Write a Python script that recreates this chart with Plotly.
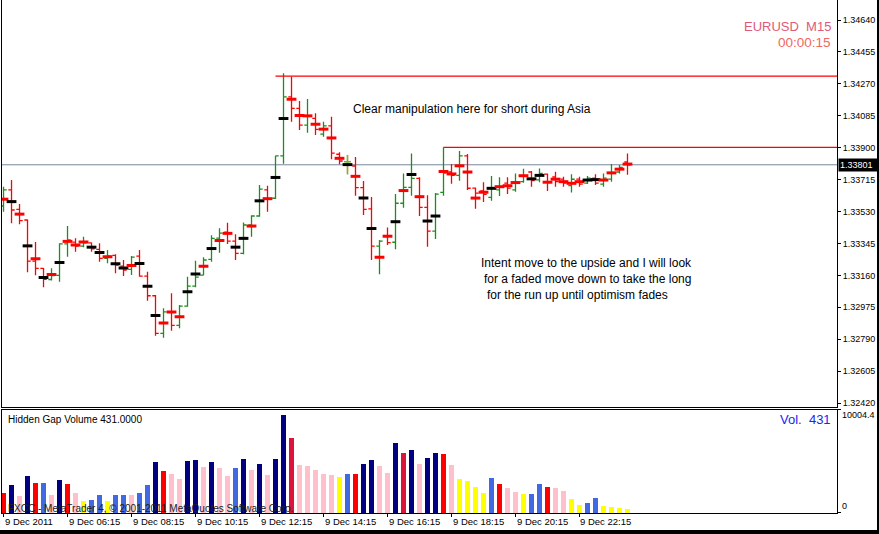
import plotly.graph_objects as go

# ---------------- data ----------------
bar_index = list(range(79))

opens = [1.33562, 1.33655, 1.33543, 1.33481, 1.33243, 1.33201, 1.33136, 1.33160, 1.33343, 1.33353,
         1.33330, 1.33348, 1.33311, 1.33259, 1.33276, 1.33214, 1.33195, 1.33272, 1.33156, 1.33042,
         1.32824, 1.32946, 1.32870, 1.32982, 1.33098, 1.33162, 1.33253, 1.33376, 1.33411, 1.33359,
         1.33288, 1.33452, 1.33504, 1.33655, 1.33607, 1.33852, 1.34195, 1.34128, 1.34031, 1.34070,
         1.33979, 1.34026, 1.33862, 1.33819, 1.33794, 1.33668, 1.33545, 1.33330, 1.33384, 1.33352,
         1.33578, 1.33670, 1.33722, 1.33554, 1.33417, 1.33641, 1.33759, 1.33740, 1.33852, 1.33666,
         1.33649, 1.33612, 1.33655, 1.33695, 1.33655, 1.33703, 1.33759, 1.33713, 1.33747, 1.33730,
         1.33718, 1.33680, 1.33718, 1.33695, 1.33724, 1.33689, 1.33718, 1.33759, 1.33817]
highs = [1.33674, 1.33713, 1.33574, 1.33484, 1.33353, 1.33203, 1.33201, 1.33346, 1.33446, 1.33375,
         1.33384, 1.33350, 1.33346, 1.33307, 1.33282, 1.33249, 1.33272, 1.33307, 1.33181, 1.33046,
         1.32969, 1.33056, 1.32988, 1.33152, 1.33245, 1.33265, 1.33392, 1.33433, 1.33465, 1.33398,
         1.33467, 1.33508, 1.33684, 1.33680, 1.33853, 1.34331, 1.34311, 1.34171, 1.34182, 1.34099,
         1.34051, 1.34080, 1.33873, 1.33858, 1.33846, 1.33707, 1.33614, 1.33365, 1.33438, 1.33631,
         1.33751, 1.33867, 1.33728, 1.33624, 1.33637, 1.33902, 1.33805, 1.33881, 1.33863, 1.33670,
         1.33699, 1.33736, 1.33728, 1.33728, 1.33751, 1.33778, 1.33765, 1.33780, 1.33751, 1.33761,
         1.33732, 1.33746, 1.33732, 1.33736, 1.33746, 1.33751, 1.33805, 1.33800, 1.33867]
lows = [1.33529, 1.33462, 1.33456, 1.33178, 1.33160, 1.33091, 1.33130, 1.33123, 1.33268, 1.33297,
        1.33323, 1.33297, 1.33239, 1.33230, 1.33172, 1.33156, 1.33162, 1.33152, 1.33013, 1.32810,
        1.32799, 1.32839, 1.32853, 1.32978, 1.33091, 1.33160, 1.33239, 1.33291, 1.33342, 1.33249,
        1.33282, 1.33384, 1.33500, 1.33529, 1.33602, 1.33807, 1.34051, 1.34002, 1.33987, 1.33973,
        1.33964, 1.33833, 1.33804, 1.33746, 1.33622, 1.33510, 1.33249, 1.33166, 1.33336, 1.33311,
        1.33552, 1.33622, 1.33504, 1.33326, 1.33371, 1.33622, 1.33691, 1.33709, 1.33655, 1.33546,
        1.33585, 1.33593, 1.33620, 1.33631, 1.33645, 1.33697, 1.33674, 1.33699, 1.33649, 1.33674,
        1.33674, 1.33641, 1.33674, 1.33689, 1.33684, 1.33674, 1.33703, 1.33751, 1.33743]
closes = [1.33655, 1.33539, 1.33477, 1.33243, 1.33201, 1.33137, 1.33159, 1.33342, 1.33365, 1.33330,
          1.33348, 1.33313, 1.33259, 1.33272, 1.33220, 1.33191, 1.33266, 1.33156, 1.33042, 1.32824,
          1.32948, 1.32870, 1.32982, 1.33098, 1.33150, 1.33249, 1.33375, 1.33405, 1.33359, 1.33288,
          1.33452, 1.33504, 1.33660, 1.33602, 1.33852, 1.34195, 1.34128, 1.34031, 1.34084, 1.34006,
          1.34026, 1.33869, 1.33823, 1.33819, 1.33668, 1.33543, 1.33330, 1.33359, 1.33350, 1.33578,
          1.33670, 1.33722, 1.33554, 1.33417, 1.33631, 1.33753, 1.33740, 1.33852, 1.33665, 1.33637,
          1.33629, 1.33665, 1.33674, 1.33666, 1.33694, 1.33736, 1.33709, 1.33751, 1.33697, 1.33703,
          1.33695, 1.33717, 1.33689, 1.33724, 1.33695, 1.33724, 1.33755, 1.33786, 1.33801]

volumes = [2020, 2910, 1710, 3840, 3120, 3120, 1820, 3430, 3010, 2090,
           1270, 1370, 1820, 1270, 1880, 1880, 1820, 2090, 2910, 5280,
           4350, 4040, 3530, 5380, 5480, 4760, 5280, 4660, 3840, 4660,
           5580, 4450, 5070, 3940, 5580, 10004, 7740, 4970, 4870, 4450,
           4040, 3940, 3730, 4040, 4040, 5070, 5480, 4870, 4150, 7130,
           6200, 6510, 5070, 5690, 6200, 6100, 4970, 3530, 3320, 2710,
           2090, 3630, 3010, 2600, 2190, 1990, 1990, 3010, 2710, 2600,
           2300, 1470, 860, 1060, 1580, 750, 650, 550, 431]
# gap-volume class per bar: N navy, B blue, R red, C crimson, P pink, Y yellow
volume_class = list("RNPNRBPNRP" "YBBYBBPBBN" "RPPNNPNPPB" "NPNPNNCPPP"
                    "PPYBRNNPPN" "CNPNNRPYYY" "YBRPPYBBRP" "PYYBBYYYY")

time_ticks = [0, 8, 16, 24, 32, 40, 48, 56, 64, 72]
time_labels = ["9 Dec 2011", "9 Dec 06:15", "9 Dec 08:15", "9 Dec 10:15", "9 Dec 12:15",
               "9 Dec 14:15", "9 Dec 16:15", "9 Dec 18:15", "9 Dec 20:15", "9 Dec 22:15"]
price_ticks = [1.34640, 1.34455, 1.34270, 1.34085, 1.33900, 1.33715, 1.33530,
               1.33345, 1.33160, 1.32975, 1.32790, 1.32605, 1.32420]
level_prices = [1.34315, 1.33902]
level_starts = [34, 55]
volume_axis_max = 10004.4

# ---------------- styling ----------------
FONT = "Liberation Sans, Arial, sans-serif"
class_colors = {"N": "#000080", "B": "#4169E1", "R": "#FF0000",
                "C": "#DC143C", "P": "#FFC0CB", "Y": "#FFFF00"}
vol_colors = [class_colors[c] for c in volume_class]
mark_colors = ["#000000" if c in "NB" else "#FF0000" for c in volume_class]
medians = [(h + l) / 2 for h, l in zip(highs, lows)]

XR = [-0.19, 104.19]
fig = go.Figure()

fig.add_trace(go.Ohlc(
    x=bar_index, open=opens, high=highs, low=lows, close=closes,
    increasing=dict(line=dict(color="#1E8C1E", width=1.3)),
    decreasing=dict(line=dict(color="#FF0000", width=1.3)),
    tickwidth=0.4, xaxis="x", yaxis="y", hoverinfo="skip", showlegend=False))

# doji bars (open == close) in lime
dx, dy = [], []
for i, o, h, l, c in zip(bar_index, opens, highs, lows, closes):
    if o == c:
        dx += [i, i, None, i - 0.4, i + 0.4, None]
        dy += [l, h, None, o, o, None]
fig.add_trace(go.Scatter(x=dx, y=dy, mode="lines", line=dict(color="#00FF00", width=1.3),
                         xaxis="x", yaxis="y", hoverinfo="skip", showlegend=False))

# hidden-gap median markers
fig.add_trace(go.Scatter(
    x=bar_index, y=medians, mode="markers",
    marker=dict(symbol="line-ew", size=7, line=dict(width=3, color=mark_colors)),
    xaxis="x", yaxis="y", hoverinfo="skip", showlegend=False))

# volume
fig.add_trace(go.Bar(x=bar_index, y=volumes, marker=dict(color=vol_colors, line=dict(width=0)),
                     width=0.58, xaxis="x2", yaxis="y2", hoverinfo="skip", showlegend=False))

shapes = [
    dict(type="line", xref="paper", yref="y", x0=0, x1=1, y0=closes[-1], y1=closes[-1],
         line=dict(color="#778899", width=1), layer="below"),
]
for p, s in zip(level_prices, level_starts):
    shapes.append(dict(type="line", xref="x", yref="y", x0=s, x1=XR[1], y0=p, y1=p,
                       line=dict(color="#FF0000", width=1.2)))
# window frame (right edge and bottom strip)
shapes.append(dict(type="rect", xref="paper", yref="paper", x0=1.0479, x1=1.06, y0=-0.06, y1=1.02,
                   fillcolor="black", line=dict(width=0)))
shapes.append(dict(type="rect", xref="paper", yref="paper", x0=-0.01, x1=1.06, y0=-0.06, y1=-0.0331,
                   fillcolor="black", line=dict(width=0)))

ann = []
def txt(text, x, y, size, color="#000000", xanchor="left", yanchor="middle", xref="paper", yref="paper", **kw):
    ann.append(dict(text=text, x=x, y=y, xref=xref, yref=yref, xanchor=xanchor, yanchor=yanchor,
                    showarrow=False, font=dict(family=FONT, size=size, color=color), borderpad=0, **kw))

txt("Clear manipulation here for short during Asia", 0.4192, 0.7875, 12)
txt("Intent move to the upside and I will look", 0.5725, 0.4873, 12)
txt("for a faded move down to take the long", 0.5760, 0.4561, 12)
txt("for the run up until optimism fades", 0.5796, 0.4250, 12)
txt("EURUSD\u00a0 M15", 0.9940, 0.9493, 13, color="#E05A78", xanchor="right")
txt("00:00:15", 0.9940, 0.9181, 13.5, color="#F2665E", xanchor="right")
txt("Hidden Gap Volume 431.0000", 0.006, 0.1813, 10)
txt("Vol.\u00a0 431", 0.9940, 0.1832, 13, color="#2424F0", xanchor="right")
txt("FXCC - MetaTrader 4, \u00a9 2001-2011 MetaQuotes Software Corp.", 0.006, 0.0097, 10, color="#202020")
for t, lab in zip(time_ticks, time_labels):
    txt(lab, t, -0.0175, 9.5, xref="x2")
txt(f"{volume_axis_max:.1f}", 1.0042, volume_axis_max, 9, yref="y2")
txt("0", 1.0042, 0.0136, 9)
ann.append(dict(text=f"{closes[-1]:.5f}", x=1.0012, y=closes[-1], xref="paper", yref="y",
                xanchor="left", yanchor="middle", showarrow=False, bgcolor="#000000",
                font=dict(family=FONT, size=9, color="#FFFFFF"), borderpad=1, width=37, align="left"))

fig.update_layout(
    width=879, height=534, margin=dict(l=2, r=42, t=0, b=21),
    paper_bgcolor="white", plot_bgcolor="white",
    font=dict(family=FONT, size=9, color="black"),
    showlegend=False, bargap=0, shapes=shapes, annotations=ann,
    xaxis=dict(domain=[0, 1], range=XR, anchor="y", showline=True, linecolor="black", linewidth=1,
               ticks="", showticklabels=False, showgrid=False, zeroline=False,
               rangeslider=dict(visible=False)),
    yaxis=dict(domain=[0.2076, 1], range=[1.32400, 1.34756], side="right", anchor="x",
               showline=True, mirror=True, linecolor="black", linewidth=1,
               ticks="outside", ticklen=3, tickcolor="black",
               tickvals=price_ticks, ticktext=[f"{v:.5f}" for v in price_ticks],
               tickfont=dict(family=FONT, size=9, color="black"),
               showgrid=False, zeroline=False),
    xaxis2=dict(domain=[0, 1], range=XR, anchor="y2", showline=True, mirror=True,
                linecolor="black", linewidth=1, ticks="outside", ticklen=3, tickcolor="black",
                tickvals=time_ticks, showticklabels=False, showgrid=False, zeroline=False),
    yaxis2=dict(domain=[0, 0.2008], range=[0, 10560], side="right", anchor="x2",
                showline=True, mirror=True, linecolor="black", linewidth=1,
                ticks="outside", ticklen=3, tickcolor="black", tickvals=[0, 10560],
                showticklabels=False, showgrid=False, zeroline=False),
)

fig.write_html("out.html")
